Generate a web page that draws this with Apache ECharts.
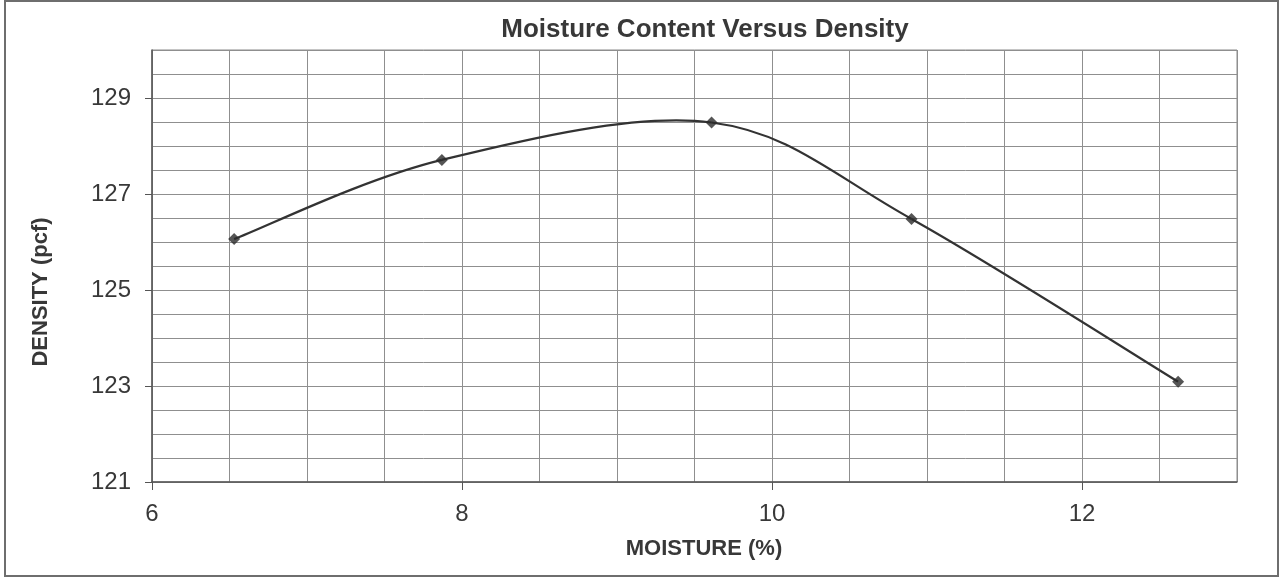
<!DOCTYPE html>
<html>
<head>
<meta charset="utf-8">
<script src="https://cdn.jsdelivr.net/npm/echarts@6.0.0/dist/echarts.min.js"></script>
<style>
  html, body { margin: 0; padding: 0; background: #ffffff; }
  #chart { width: 1283px; height: 577px; }
</style>
</head>
<body>
<div id="chart"></div>
<script>
// ---- data ----
const moisture = [6.53, 7.87, 9.61, 10.90, 12.62];
const density = [126.06, 127.71, 128.49, 126.48, 123.09];
const xTickLabels = [6, 8, 10, 12];
const yTickLabels = [121, 123, 125, 127, 129];
const titleText = 'Moisture Content Versus Density';
const xName = 'MOISTURE (%)';
const yName = 'DENSITY (pcf)';

const FONT = "'Liberation Sans', Arial, sans-serif";
const TXT = '#383838';

const points = moisture.map((m, i) => [m, density[i]]);

// Smoothed (Catmull-Rom style, like a spreadsheet "smoothed line") curve drawn
// through the data points, converted to pixels with the chart's own axes.
function renderSmoothLine(params, api) {
  if (params.dataIndex !== 0) return null;
  const px = points.map(p => api.coord(p));
  const n = px.length;
  const children = [];
  for (let i = 0; i < n - 1; i++) {
    const p0 = px[Math.max(i - 1, 0)];
    const p1 = px[i];
    const p2 = px[i + 1];
    const p3 = px[Math.min(i + 2, n - 1)];
    children.push({
      type: 'bezierCurve',
      shape: {
        x1: p1[0], y1: p1[1],
        cpx1: p1[0] + (p2[0] - p0[0]) / 6, cpy1: p1[1] + (p2[1] - p0[1]) / 6,
        cpx2: p2[0] - (p3[0] - p1[0]) / 6, cpy2: p2[1] - (p3[1] - p1[1]) / 6,
        x2: p2[0], y2: p2[1]
      },
      style: { stroke: '#333', lineWidth: 2.2, fill: null }
    });
  }
  return { type: 'group', children: children };
}

const chart = echarts.init(document.getElementById('chart'), null, { renderer: 'canvas' });
chart.setOption({
  backgroundColor: '#ffffff',
  animation: false,
  title: {
    text: titleText,
    left: 700,
    textAlign: 'center',
    top: 12,
    textStyle: { fontFamily: FONT, fontSize: 26, fontWeight: 'bold', color: TXT }
  },
  graphic: [{
    type: 'rect',
    shape: { x: 5, y: 1, width: 1273, height: 575 },
    style: { fill: 'none', stroke: '#6e6e6e', lineWidth: 2 },
    silent: true
  }],
  grid: {
    left: 152, right: 46, top: 50, bottom: 95,
    show: true, borderColor: '#8a8a8a', borderWidth: 1
  },
  xAxis: [{
    type: 'value', min: 6, max: 13, interval: 0.5,
    position: 'bottom',
    name: xName, nameLocation: 'middle', nameGap: 56,
    nameTextStyle: { fontFamily: FONT, fontSize: 22, fontWeight: 'bold', color: TXT, padding: [0, 0, 0, 19] },
    axisLine: { show: true, onZero: false, lineStyle: { color: '#555', width: 1.5 } },
    axisTick: { show: false },
    axisLabel: { show: false },
    splitLine: { show: true, lineStyle: { color: '#8f8f8f', width: 1 } }
  }, {
    type: 'value', min: 6, max: 13, interval: 0.5,
    position: 'bottom',
    axisLine: { show: false, onZero: false },
    axisTick: { show: true, customValues: xTickLabels, length: 8, lineStyle: { color: '#555', width: 1 } },
    axisLabel: { show: true, customValues: xTickLabels, margin: 20, fontFamily: FONT, fontSize: 24, color: TXT },
    splitLine: { show: false }
  }],
  yAxis: [{
    type: 'value', min: 121, max: 130, interval: 0.5,
    position: 'left',
    name: yName, nameLocation: 'middle', nameGap: 100, nameRotate: 90,
    nameTextStyle: { fontFamily: FONT, fontSize: 22, fontWeight: 'bold', color: TXT, padding: [0, 52, 0, 0] },
    axisLine: { show: true, onZero: false, lineStyle: { color: '#555', width: 1.5 } },
    axisTick: { show: false },
    axisLabel: { show: false },
    splitLine: { show: true, lineStyle: { color: '#8f8f8f', width: 1 } }
  }, {
    type: 'value', min: 121, max: 130, interval: 0.5,
    position: 'left',
    axisLine: { show: false, onZero: false },
    axisTick: { show: true, customValues: yTickLabels, length: 7, lineStyle: { color: '#555', width: 1 } },
    axisLabel: { show: true, customValues: yTickLabels, margin: 21, fontFamily: FONT, fontSize: 24, color: TXT, padding: [4, 0, 0, 0] },
    splitLine: { show: false }
  }],
  series: [{
    type: 'custom',
    xAxisIndex: 0, yAxisIndex: 0,
    data: points,
    encode: { x: 0, y: 1 },
    renderItem: renderSmoothLine,
    silent: true,
    z: 2
  }, {
    type: 'scatter',
    xAxisIndex: 0, yAxisIndex: 0,
    data: points,
    symbol: 'diamond',
    symbolSize: 12,
    itemStyle: { color: '#2a2a2a' },
    z: 3
  }]
});
</script>
</body>
</html>
